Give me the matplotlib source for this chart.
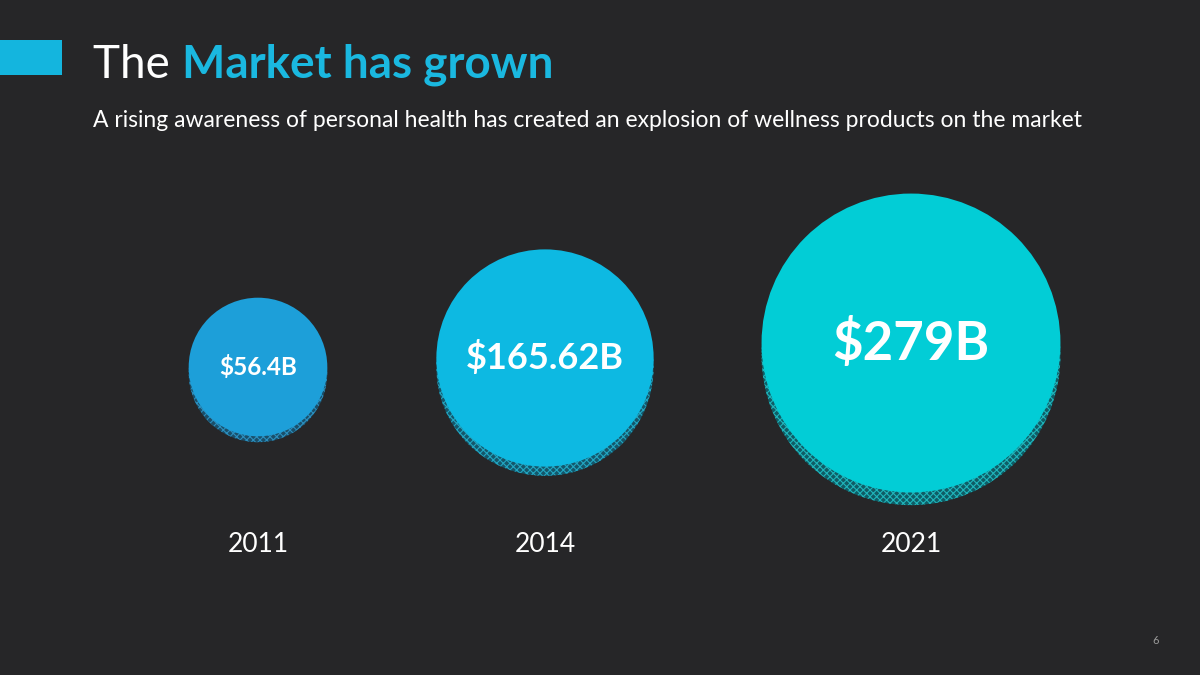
import numpy as np
import matplotlib
matplotlib.use("Agg")
import matplotlib.pyplot as plt
from matplotlib.patches import Circle, Rectangle

# ---- data ----
years = ["2011", "2014", "2021"]
values = [56.4, 165.62, 279.0]
labels = ["$56.4B", "$165.62B", "$279B"]

title_plain = "The "
title_bold = "Market has grown"
subtitle = "A rising awareness of personal health has created an explosion of wellness products on the market"
page_no = "6"

# ---- styles ----
BG = "#262628"
fills = ["#1D9FD9", "#0DB9E2", "#02CDD6"]
shadow_fc = ["#1a4f6a", "#14576b", "#0f5d66"]
shadow_hc = ["#2b8fbf", "#21a6c2", "#1fb5bb"]
label_sizes = [17.5, 26, 38]
centers_x = [258, 545, 911]
centers_y = [367, 358, 343]
R0, RK = 49.0, 0.36  # radius scale: px = R0 + RK * value


def radius(v):
    return R0 + RK * v


plt.rcParams['font.family'] = ['Lato', 'DejaVu Sans']
plt.rcParams['hatch.linewidth'] = 0.8

fig = plt.figure(figsize=(12, 6.75), dpi=100, facecolor=BG)
ax = fig.add_axes([0, 0, 1, 1])
ax.set_facecolor(BG)
ax.set_xlim(0, 1200)
ax.set_ylim(675, 0)
ax.set_aspect('equal')
ax.axis('off')

# accent rectangle
ax.add_patch(Rectangle((0, 40), 62, 35, facecolor="#14B5DE", edgecolor='none'))

# title
t1 = ax.text(93, 78, title_plain, fontsize=33, color='white', va='baseline', ha='left')
ax.annotate(title_bold, xy=(1, 0), xycoords=t1, fontsize=33, color="#1AB8E0",
            fontweight='bold', va='bottom', ha='left')
ax.text(93, 127, subtitle, fontsize=16.5, color='white', va='baseline', ha='left')

for i, (yr, v, lab) in enumerate(zip(years, values, labels)):
    r = radius(v)
    cx, cy = centers_x[i], centers_y[i]
    off = 0.085 * r
    ax.add_patch(Circle((cx, cy + off), r, facecolor=shadow_fc[i], edgecolor=shadow_hc[i],
                        hatch='xxxxx', linewidth=0, zorder=2))
    ax.add_patch(Circle((cx, cy), r, facecolor=fills[i], edgecolor='none', zorder=3))
    ax.text(cx, cy, lab, fontsize=label_sizes[i], color='white', fontweight='bold',
            ha='center', va='center', zorder=4)
    ax.text(cx, 545, yr, fontsize=19, color='white', ha='center', va='center')

ax.text(1156, 641, page_no, fontsize=8, color='#9a9a9a', ha='center', va='center')

fig.savefig("out.png", dpi=100, facecolor=BG)
